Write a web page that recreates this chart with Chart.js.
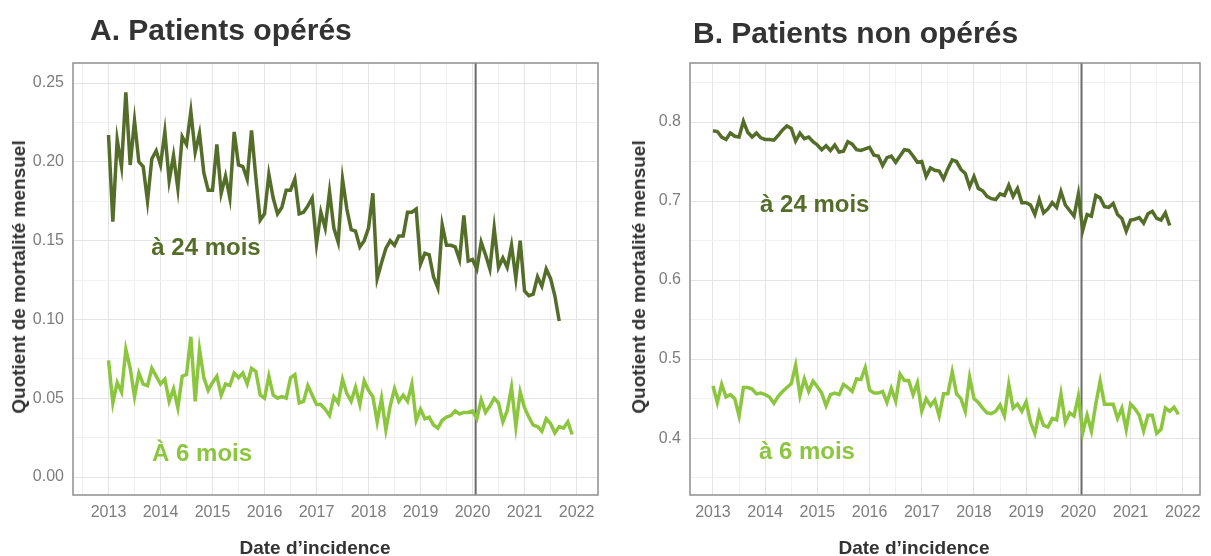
<!DOCTYPE html>
<html>
<head>
<meta charset="utf-8">
<script src="https://cdn.jsdelivr.net/npm/chart.js@4.4.0/dist/chart.umd.min.js"></script>
<style>
  body { margin: 0; background: #fff; width: 1211px; height: 556px; position: relative; overflow: hidden;
         font-family: "Liberation Sans", Arial, sans-serif; }
  .titre { position: absolute; font-weight: bold; font-size: 30px; line-height: 30px; color: #333; white-space: nowrap; }
  .axe { position: absolute; font-weight: bold; font-size: 19px; line-height: 20px; color: #333; white-space: nowrap; }
  .axe-y { transform: translate(-50%, -50%) rotate(-90deg); }
  .axe-x { transform: translate(-50%, -50%); }
  canvas { position: absolute; top: 0; }
</style>
</head>
<body>
<canvas id="chartA" width="610" height="556" style="left:0"></canvas>
<canvas id="chartB" width="596" height="556" style="left:615px"></canvas>
<div class="titre" style="left:90px;top:15px">A. Patients opérés</div>
<div class="titre" style="left:693px;top:18px">B. Patients non opérés</div>
<div class="axe axe-y" style="left:19px;top:277px">Quotient de mortalité mensuel</div>
<div class="axe axe-y" style="left:639px;top:277px">Quotient de mortalité mensuel</div>
<div class="axe axe-x" style="left:315px;top:548px">Date d’incidence</div>
<div class="axe axe-x" style="left:914px;top:548px">Date d’incidence</div>
<script>
// mois depuis janvier 2013
const debut = 2013;
const rupture = 2020.06;

// A. opérés, quotient à 24 mois
const op24 = [0.217,0.162,0.214,0.197,0.244,0.198,0.226,0.200,0.197,0.175,0.202,0.207,
  0.198,0.219,0.188,0.204,0.183,0.216,0.211,0.232,0.206,0.218,0.193,0.182,
  0.182,0.211,0.180,0.191,0.177,0.219,0.198,0.197,0.189,0.220,0.190,0.163,
  0.167,0.192,0.177,0.167,0.171,0.182,0.182,0.189,0.167,0.168,0.172,0.177,
  0.148,0.168,0.158,0.181,0.158,0.149,0.189,0.170,0.157,0.156,0.146,0.150,
  0.158,0.180,0.126,0.136,0.145,0.150,0.147,0.153,0.153,0.168,0.168,0.170,
  0.135,0.142,0.141,0.127,0.120,0.160,0.147,0.147,0.146,0.138,0.166,0.137,
  0.138,0.132,0.149,0.141,0.132,0.158,0.133,0.139,0.133,0.147,0.126,0.150,
  0.118,0.115,0.116,0.127,0.121,0.132,0.126,0.115,0.099];
// A. opérés, quotient à 6 mois
const op6 = [0.074,0.047,0.060,0.054,0.081,0.069,0.051,0.066,0.059,0.058,0.069,0.064,
  0.059,0.062,0.048,0.056,0.044,0.064,0.065,0.089,0.048,0.081,0.063,0.055,
  0.060,0.064,0.052,0.059,0.058,0.066,0.063,0.066,0.059,0.069,0.067,0.052,
  0.050,0.064,0.052,0.050,0.051,0.050,0.063,0.065,0.047,0.048,0.058,0.052,
  0.046,0.046,0.043,0.039,0.051,0.047,0.062,0.053,0.048,0.057,0.046,0.061,
  0.055,0.051,0.035,0.050,0.030,0.045,0.056,0.048,0.052,0.048,0.059,0.036,
  0.043,0.037,0.038,0.033,0.031,0.036,0.038,0.039,0.042,0.040,0.041,0.041,
  0.042,0.037,0.049,0.041,0.045,0.050,0.047,0.035,0.042,0.057,0.032,0.054,
  0.044,0.038,0.033,0.032,0.029,0.037,0.034,0.028,0.032,0.031,0.035,0.027];
// B. non opérés, quotient à 24 mois
const nop24 = [0.789,0.788,0.781,0.778,0.786,0.782,0.781,0.801,0.787,0.781,0.786,0.780,
  0.778,0.778,0.777,0.783,0.790,0.795,0.792,0.776,0.786,0.779,0.781,0.775,
  0.771,0.765,0.770,0.764,0.771,0.762,0.763,0.775,0.772,0.765,0.764,0.766,
  0.768,0.758,0.757,0.745,0.755,0.757,0.749,0.757,0.765,0.764,0.757,0.749,
  0.750,0.731,0.742,0.739,0.738,0.728,0.741,0.752,0.750,0.740,0.735,0.718,
  0.731,0.716,0.713,0.706,0.703,0.702,0.709,0.707,0.720,0.706,0.716,0.698,
  0.698,0.695,0.683,0.702,0.685,0.690,0.698,0.692,0.712,0.695,0.688,0.681,
  0.709,0.663,0.683,0.681,0.707,0.704,0.693,0.692,0.697,0.683,0.678,0.662,
  0.676,0.677,0.679,0.672,0.684,0.687,0.678,0.676,0.685,0.669];
// B. non opérés, quotient à 6 mois
const nop6 = [0.466,0.445,0.468,0.452,0.455,0.450,0.428,0.464,0.464,0.462,0.456,0.457,
  0.455,0.452,0.444,0.453,0.459,0.464,0.469,0.492,0.454,0.475,0.459,0.472,
  0.465,0.457,0.441,0.455,0.457,0.455,0.468,0.464,0.459,0.475,0.474,0.489,
  0.461,0.457,0.457,0.459,0.445,0.463,0.447,0.481,0.473,0.473,0.455,0.470,
  0.434,0.450,0.441,0.448,0.428,0.456,0.456,0.484,0.456,0.450,0.434,0.477,
  0.450,0.445,0.438,0.432,0.431,0.434,0.442,0.428,0.468,0.438,0.443,0.434,
  0.446,0.420,0.406,0.432,0.416,0.414,0.425,0.423,0.456,0.420,0.432,0.428,
  0.453,0.407,0.429,0.409,0.443,0.472,0.443,0.443,0.443,0.425,0.438,0.411,
  0.443,0.437,0.429,0.409,0.429,0.429,0.406,0.411,0.438,0.434,0.439,0.430];

const vert24 = '#546e2a';
const vert6 = '#8cc63f';
const police = '"Liberation Sans", Arial, sans-serif';

function points(valeurs) {
  return valeurs.map((v, i) => ({ x: debut + i / 12, y: v }));
}

const cadre = {
  id: 'cadre',
  beforeDatasetsDraw(chart, args, opts) {
    const { ctx, chartArea: a, scales: { x } } = chart;
    const xv = x.getPixelForValue(opts.rupture);
    ctx.save();
    ctx.strokeStyle = '#6b6b6b';
    ctx.lineWidth = 2;
    ctx.beginPath();
    ctx.moveTo(xv, a.top);
    ctx.lineTo(xv, a.bottom);
    ctx.stroke();
    ctx.restore();
  },
  afterDatasetsDraw(chart, args, opts) {
    const { ctx, chartArea: a, scales: { x, y } } = chart;
    ctx.save();
    ctx.strokeStyle = '#8f8f8f';
    ctx.lineWidth = 1.5;
    ctx.strokeRect(a.left, a.top, a.width, a.height);
    ctx.font = 'bold 24px ' + police;
    ctx.textAlign = 'center';
    ctx.textBaseline = 'middle';
    opts.etiquettes.forEach(e => {
      ctx.fillStyle = e.couleur;
      ctx.fillText(e.texte, x.getPixelForValue(e.x), y.getPixelForValue(e.y));
    });
    ctx.restore();
  }
};

function config(s24, s6, p) {
  const estEntier = (v, pas) => Math.abs(v / pas - Math.round(v / pas)) < 1e-6;
  return {
    type: 'line',
    data: {
      datasets: [
        { data: points(s24), borderColor: vert24, borderWidth: 3.5, pointRadius: 0, tension: 0 },
        { data: points(s6), borderColor: vert6, borderWidth: 3.5, pointRadius: 0, tension: 0 }
      ]
    },
    options: {
      responsive: false,
      animation: false,
      layout: { padding: { top: 63, right: p.droite, left: 0, bottom: 0 } },
      plugins: {
        legend: { display: false },
        tooltip: { enabled: false },
        cadre: { rupture: rupture, etiquettes: p.etiquettes }
      },
      scales: {
        x: {
          type: 'linear', min: p.xmin, max: p.xmax,
          afterFit: s => { s.height = 61; },
          border: { display: false },
          grid: { drawTicks: false, color: c => estEntier(c.tick.value, 1) ? '#e4e4e4' : '#f1f1f1' },
          ticks: {
            stepSize: 0.5, includeBounds: false, autoSkip: false, maxRotation: 0, padding: 8,
            color: '#7d7d7d', font: { size: 16, family: police },
            callback: v => estEntier(v, 1) ? String(Math.round(v)) : ''
          }
        },
        y: {
          min: p.ymin, max: p.ymax,
          afterFit: s => { s.width = p.largeurY; },
          border: { display: false },
          grid: { drawTicks: false, color: c => estEntier(c.tick.value, p.majeur) ? '#e4e4e4' : '#f1f1f1' },
          ticks: {
            stepSize: p.pas, includeBounds: false, padding: 9,
            color: '#7d7d7d', font: { size: 16, family: police },
            callback: v => estEntier(v, p.majeur) ? v.toFixed(p.dec) : ''
          }
        }
      }
    },
    plugins: [cadre]
  };
}

new Chart(document.getElementById('chartA'), config(op24, op6, {
  xmin: 2012.317, xmax: 2022.413, ymin: -0.0114, ymax: 0.2627, pas: 0.025, majeur: 0.05, dec: 2,
  largeurY: 73, droite: 12,
  etiquettes: [
    { texte: 'à 24 mois', x: 2014.875, y: 0.145, couleur: vert24 },
    { texte: 'À 6 mois', x: 2014.8, y: 0.0145, couleur: vert6 }
  ]
}));

new Chart(document.getElementById('chartB'), config(nop24, nop6, {
  xmin: 2012.56, xmax: 2022.33, ymin: 0.328, ymax: 0.8747, pas: 0.05, majeur: 0.1, dec: 1,
  largeurY: 75, droite: 11,
  etiquettes: [
    { texte: 'à 24 mois', x: 2014.95, y: 0.695, couleur: vert24 },
    { texte: 'à 6 mois', x: 2014.8, y: 0.382, couleur: vert6 }
  ]
}));
</script>
</body>
</html>
